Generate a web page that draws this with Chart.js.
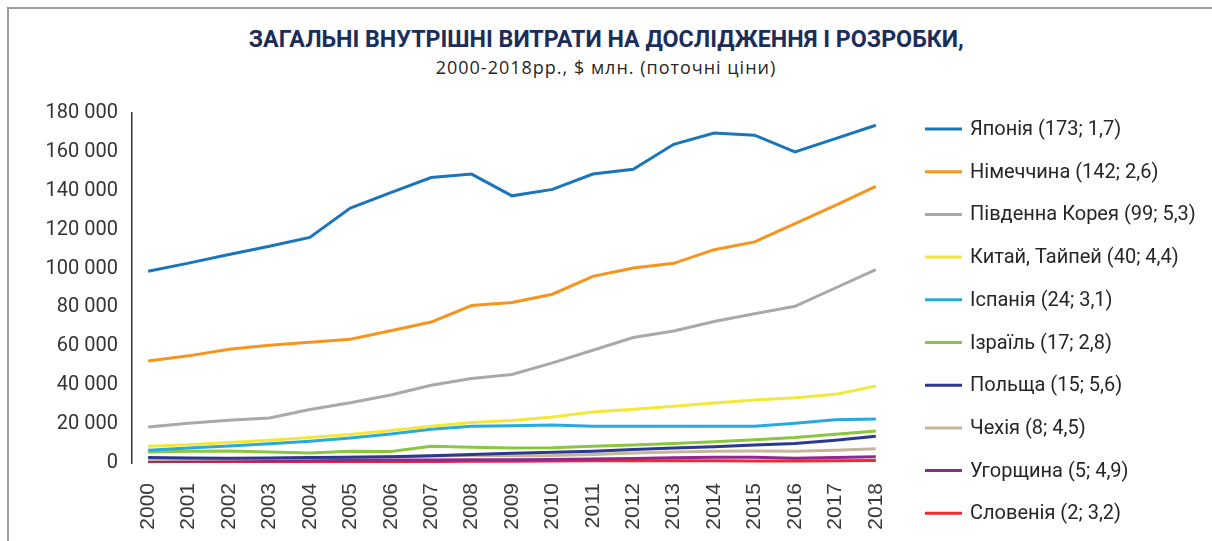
<!DOCTYPE html>
<html><head><meta charset="utf-8">
<script src="https://cdn.jsdelivr.net/npm/chart.js@4.4.1/dist/chart.umd.min.js"></script>
<style>
html,body{margin:0;padding:0;background:#fff;}
#wrap{position:relative;width:1212px;height:541px;overflow:hidden;background:#fff;}
#frame{position:absolute;left:7px;top:7px;width:1220px;height:560px;border-top:2px solid #9c9c9c;border-left:2px solid #9c9c9c;}
canvas{position:absolute;left:0;top:0;}
.ttl{position:absolute;left:0;width:1212px;text-align:center;white-space:nowrap;}
.ttl span{display:inline-block;transform-origin:center center;}
#t1{top:24px;font-family:Roboto,sans-serif;font-weight:bold;font-size:24px;line-height:30px;color:#1b2d5b;}
#t2{top:55px;font-family:"Open Sans",sans-serif;font-size:18px;line-height:24px;color:#262626;letter-spacing:1px;}
</style></head><body>
<div id="wrap"><div id="frame"></div>
<div class="ttl" id="t1"><span id="t1s">ЗАГАЛЬНІ ВНУТРІШНІ ВИТРАТИ НА ДОСЛІДЖЕННЯ І РОЗРОБКИ,</span></div>
<div class="ttl" id="t2"><span>2000-2018рр., $ млн. (поточні ціни)</span></div>
<canvas id="c" width="1212" height="541"></canvas></div>
<script>
const years = [2000,2001,2002,2003,2004,2005,2006,2007,2008,2009,2010,2011,2012,2013,2014,2015,2016,2017,2018];
const yTicks = [0,20000,40000,60000,80000,100000,120000,140000,160000,180000];
const seriesNames = ['Японія (173; 1,7)','Німеччина (142; 2,6)','Південна Корея (99; 5,3)','Китай, Тайпей (40; 4,4)','Іспанія (24; 3,1)','Ізраїль (17; 2,8)','Польща (15; 5,6)','Чехія (8; 4,5)','Угорщина (5; 4,9)','Словенія (2; 3,2)'];
const japan    = [98600,102800,107200,111500,116000,131100,139000,146800,148600,137400,140700,148600,151100,163900,169700,168600,160000,166800,173700];
const germany  = [52500,55100,58500,60600,62100,63600,68000,72500,81000,82600,86800,96000,100300,102700,109700,113700,123100,132500,142300];
const korea    = [18500,20500,22000,23100,27500,31000,35000,40000,43500,45500,51500,58000,64500,67900,72800,76800,80600,90000,99500];
const taipei   = [8600,9400,10600,11700,13100,14700,16700,18900,20800,21900,23700,26200,27700,29200,30800,32400,33500,35300,39600];
const spain    = [6600,7700,8700,9900,11200,12900,14900,17400,18900,19200,19600,18900,18900,18900,18900,18900,20500,22200,22600];
const israel   = [5700,6000,6200,5700,5200,6100,5900,8600,8100,7700,7800,8600,9300,10000,10900,11900,13100,14800,16500];
const poland   = [2800,2600,2500,2600,2800,3000,3200,3700,4400,5000,5500,6000,6900,7700,8400,9200,10000,11700,13700];
const czech    = [1800,1900,2100,2300,2600,2900,3200,3600,3800,3700,3800,4400,5200,5700,6100,6200,6100,6500,7300];
const hungary  = [900,1000,1100,1200,1300,1400,1500,1600,1700,1700,1800,2000,2300,2700,2900,2900,2500,2800,3200];
const slovenia = [400,450,500,550,600,650,700,750,850,950,1050,1150,1150,1100,1100,1050,1000,1100,1250];
const seriesData = [japan,germany,korea,taipei,spain,israel,poland,czech,hungary,slovenia];
const seriesColors = ['#1b75bb','#f7941d','#a7a9ac','#f3e83a','#27aae1','#8cc63f','#2b3990','#c7b59b','#92278f','#ee2a2e'];

const fmt = v => String(v).replace(/\B(?=(\d{3})+(?!\d))/g, ' ');

// condense the title to the reference width
(function(){
  const s = document.getElementById('t1s');
  const w = s.getBoundingClientRect().width;
  if (w > 0) s.style.transform = 'scaleX(' + (715 / w) + ')';
})();

const datasets = seriesNames.map((name, i) => ({
  label: name,
  data: years.map((y, j) => ({x: y, y: seriesData[i][j]})),
  borderColor: seriesColors[i],
  backgroundColor: seriesColors[i],
  borderWidth: 3,
  pointRadius: 0,
  tension: 0,
  fill: false
}));

const legendPlugin = {
  id: 'sideLegend',
  afterDraw(chart) {
    const ctx = chart.ctx;
    ctx.save();
    chart.data.datasets.forEach((ds, i) => {
      const y = 129 + i * 42.7;
      ctx.strokeStyle = ds.borderColor;
      ctx.lineWidth = 3;
      ctx.beginPath();
      ctx.moveTo(925, y);
      ctx.lineTo(962, y);
      ctx.stroke();
      ctx.fillStyle = '#262626';
      ctx.font = '20px Roboto';
      ctx.textBaseline = 'middle';
      ctx.textAlign = 'left';
      ctx.fillText(ds.label, 970, y + 1);
    });
    ctx.restore();
  }
};

new Chart(document.getElementById('c'), {
  type: 'line',
  data: { datasets },
  plugins: [legendPlugin],
  options: {
    responsive: false,
    animation: false,
    devicePixelRatio: 1,
    layout: { padding: { left: 0, right: 320, top: 113, bottom: 0 } },
    plugins: {
      legend: { display: false },
      tooltip: { enabled: false },
      title: { display: false },
      subtitle: { display: false }
    },
    scales: {
      x: {
        type: 'linear',
        min: 1999.6,
        max: 2018.4,
        afterFit(s) { s.height = 78; },
        afterBuildTicks(s) { s.ticks = years.map(v => ({ value: v })); },
        ticks: {
          autoSkip: false,
          minRotation: 90,
          maxRotation: 90,
          padding: 20,
          color: '#3a3a3a',
          font: { family: '"Liberation Sans", Arial, sans-serif', size: 21 },
          callback: v => String(v)
        },
        grid: { display: false, drawTicks: false },
        border: { display: false }
      },
      y: {
        min: 0,
        max: 180000,
        afterFit(s) { s.width = 132; },
        afterBuildTicks(s) { s.ticks = yTicks.map(v => ({ value: v })); },
        ticks: {
          padding: 14,
          color: '#333',
          font: { family: 'Roboto, sans-serif', size: 20 },
          callback: v => fmt(v)
        },
        grid: { display: false, drawTicks: false },
        border: { display: true, color: '#333', width: 1.5 }
      }
    }
  }
});
</script>
</body></html>
